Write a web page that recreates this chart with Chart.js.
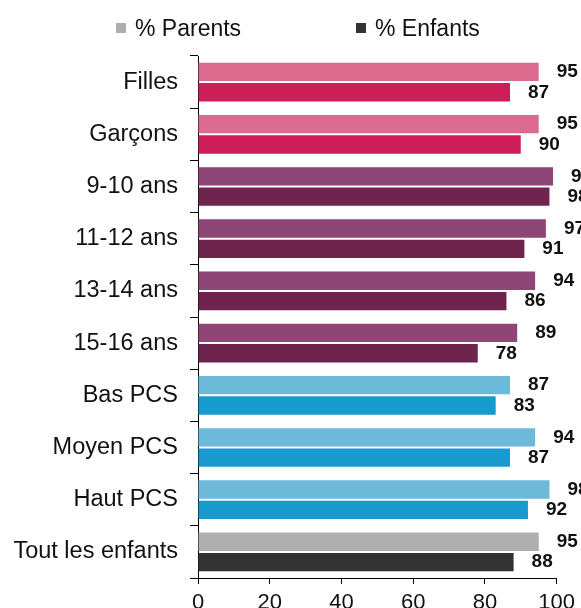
<!DOCTYPE html>
<html>
<head>
<meta charset="utf-8">
<script src="https://cdn.jsdelivr.net/npm/chart.js@4/dist/chart.umd.min.js"></script>
<style>
  html, body { margin: 0; padding: 0; background: #fff; overflow: hidden; }
  #wrap { position: absolute; left: 0; top: 0; width: 581px; height: 630px; }
  .legend { position: absolute; top: 15px; font: 23px "Liberation Sans", Arial, sans-serif; color: #111; white-space: nowrap; }
  .legend i { display: inline-block; width: 10px; height: 10px; margin-right: 9px; vertical-align: 3px; }
</style>
</head>
<body>
<div id="wrap">
  <canvas id="chart"></canvas>
  <div class="legend" style="left:116px"><i style="background:#aeaeae"></i>% Parents</div>
  <div class="legend" style="left:356px"><i style="background:#333333"></i>% Enfants</div>
</div>
<script>
'use strict';

var categories = ['Filles', 'Garçons', '9-10 ans', '11-12 ans', '13-14 ans', '15-16 ans',
  'Bas PCS', 'Moyen PCS', 'Haut PCS', 'Tout les enfants'];
var parents = [95, 95, 99, 97, 94, 89, 87, 94, 98, 95];
var enfants = [87, 90, 98, 91, 86, 78, 83, 87, 92, 88];
var xTicks = [0, 20, 40, 60, 80, 100];

// colour per category group
var parentColors = ['#da6b8f', '#da6b8f', '#8e4677', '#8e4677', '#8e4677', '#8e4677',
  '#6cb9da', '#6cb9da', '#6cb9da', '#aeaeae'];
var enfantColors = ['#cd1e57', '#cd1e57', '#6f244e', '#6f244e', '#6f244e', '#6f244e',
  '#179acd', '#179acd', '#179acd', '#333333'];

var FONT = '"Liberation Sans", Arial, sans-serif';

var valueLabels = {
  id: 'valueLabels',
  afterDatasetsDraw: function(chart) {
    var ctx = chart.ctx;
    ctx.save();
    ctx.font = 'bold 19px ' + FONT;
    ctx.fillStyle = '#111';
    ctx.textAlign = 'left';
    ctx.textBaseline = 'middle';
    chart.data.datasets.forEach(function(ds, i) {
      chart.getDatasetMeta(i).data.forEach(function(bar, j) {
        ctx.fillText(ds.data[j], bar.x + 18, bar.y);
      });
    });
    ctx.restore();
  }
};

new Chart(document.getElementById('chart').getContext('2d'), {
  type: 'bar',
  data: {
    labels: categories,
    datasets: [
      {label: '% Parents', data: parents, backgroundColor: parentColors,
        barPercentage: 0.9, categoryPercentage: 0.78},
      {label: '% Enfants', data: enfants, backgroundColor: enfantColors,
        barPercentage: 0.9, categoryPercentage: 0.78}
    ]
  },
  options: {
    indexAxis: 'y',
    responsive: true,
    maintainAspectRatio: false,
    animation: false,
    layout: {padding: {top: 56, right: 22, left: 0, bottom: 0}},
    plugins: {
      legend: {display: false},
      tooltip: {enabled: false}
    },
    scales: {
      x: {
        min: 0,
        max: 100,
        afterBuildTicks: function(scale) {
          scale.ticks = xTicks.map(function(v) { return {value: v}; });
        },
        afterFit: function(scale) { scale.height = 52; },
        grid: {drawOnChartArea: false, drawTicks: true, tickLength: 6, color: '#000'},
        border: {color: '#000', width: 1},
        ticks: {font: {family: FONT, size: 22}, color: '#111', padding: 6}
      },
      y: {
        afterFit: function(scale) { scale.width = 198; },
        grid: {drawOnChartArea: false, drawTicks: true, tickLength: 8, color: '#000', offset: true},
        border: {color: '#000', width: 1},
        ticks: {font: {family: FONT, size: 23.5}, color: '#111', padding: 12}
      }
    }
  },
  plugins: [valueLabels]
});
</script>
</body>
</html>
